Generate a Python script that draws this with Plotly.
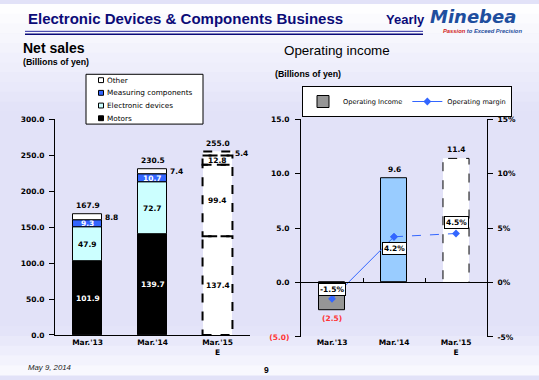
import plotly.graph_objects as go

# ---------------- data ----------------
categories = ["Mar.'13", "Mar.'14", "Mar.'15<br>E"]
motors = [101.9, 139.7, 137.4]
electronic = [47.9, 72.7, 99.4]
measuring = [9.3, 10.7, 12.8]
other = [8.8, 7.4, 5.4]
net_totals = [167.9, 230.5, 255.0]
series_names = ["Motors", "Electronic devices", "Measuring components", "Other"]

op_income = [-2.5, 9.6, 11.4]
op_margin = [-1.5, 4.2, 4.5]

net_ticks = [0, 50, 100, 150, 200, 250, 300]
inc_ticks = [-5, 0, 5, 10, 15]
margin_ticks = [-5, 0, 5, 10, 15]
estimate_index = 2

# ---------------- style ----------------
W, H = 539, 380
FONT = "DejaVu Sans"
ARIAL = "Liberation Sans"
NAVY = "#0B0B78"
BW_L = 0.46
BW_R = 0.42
series_colors = ["black", "#CCFFFF", "#3366FF", "white"]
label_colors = [["white", "white", "black"], ["black", "black", "black"],
                ["white", "white", "black"], ["black", "black", "black"]]
inc_colors = ["#969696", "#99CCFF", "white"]


def px(x):
    return x / W


def py(y):
    return 1 - y / H


dom_lx = [px(55), px(250)]
dom_ly = [py(339), py(118)]
dom_rx = [px(301), px(487)]
dom_ry = [py(341), py(118)]

fig = go.Figure()

# ---------- background gradient ----------
shapes = []


def lerp(c1, c2, t):
    return "#%02x%02x%02x" % tuple(int(round(a + (b - a) * t)) for a, b in zip(c1, c2))


top_c = (255, 255, 255)
mid_c = (226, 226, 248)
bands = 38
for k in range(bands):
    y0 = k * H / bands
    y1 = (k + 1) * H / bands
    yc = (y0 + y1) / 2
    if yc < 110:
        c = lerp(top_c, mid_c, yc / 110)
    elif yc > 330:
        c = lerp(mid_c, (250, 250, 255), (yc - 330) / 50)
    else:
        c = lerp(mid_c, mid_c, 0)
    shapes.append(dict(type="rect", xref="paper", yref="paper", x0=0, x1=1,
                       y0=py(y1 + 0.5), y1=py(y0), fillcolor=c, line=dict(width=0),
                       layer="below"))

# ---------- left chart: stacked bars ----------
stack = [motors, electronic, measuring, other]
for name, vals, col in zip(series_names, stack, series_colors):
    cols = [col if i != estimate_index else "white" for i in range(len(vals))]
    lws = [1 if i != estimate_index else 0 for i in range(len(vals))]
    fig.add_trace(go.Bar(x=categories, y=vals, name=name, width=BW_L,
                         marker=dict(color=cols, line=dict(color="black", width=lws)),
                         xaxis="x", yaxis="y", showlegend=False, hoverinfo="y+name"))

annotations = []
num_font = dict(family=FONT, size=7.5, color="black", weight="bold")

for i in range(len(categories)):
    base = 0
    for s, vals in enumerate(stack):
        v = vals[i]
        if i == estimate_index:
            shapes.append(dict(type="rect", xref="x", yref="y",
                               x0=i - BW_L / 2, x1=i + BW_L / 2, y0=base, y1=base + v,
                               line=dict(color="black", width=2, dash="dash"),
                               fillcolor="rgba(0,0,0,0)"))
        if s == 3:
            annotations.append(dict(x=i + BW_L / 2, y=base + v / 2, xref="x", yref="y",
                                    text=f"{v:.1f}", showarrow=False, xanchor="left",
                                    yanchor="middle", xshift=1, font=num_font))
        else:
            f = dict(num_font)
            f["color"] = label_colors[s][i]
            annotations.append(dict(x=i, y=base + v / 2, xref="x", yref="y",
                                    text=f"{v:.1f}", showarrow=False, yanchor="middle",
                                    font=f))
        base += v
    annotations.append(dict(x=i, y=net_totals[i], xref="x", yref="y",
                            text=f"{net_totals[i]:.1f}", showarrow=False,
                            yanchor="bottom", yshift=2, font=num_font))

# ---------- right chart ----------
fig.add_trace(go.Bar(x=categories, y=op_income, name="Operating Income", width=BW_R,
                     marker=dict(color=inc_colors,
                                 line=dict(color="black",
                                           width=[1 if i != estimate_index else 0
                                                  for i in range(3)])),
                     xaxis="x2", yaxis="y2", showlegend=True))
i = estimate_index
shapes.append(dict(type="rect", xref="x2", yref="y2", x0=i - BW_R / 2, x1=i + BW_R / 2,
                   y0=0, y1=op_income[i], line=dict(color="black", width=1, dash="dash"),
                   fillcolor="rgba(0,0,0,0)"))

fig.add_trace(go.Scatter(x=categories[:estimate_index], y=op_margin[:estimate_index],
                         name="Operating margin", mode="lines+markers",
                         line=dict(color="#3366FF", width=1),
                         marker=dict(symbol="diamond", size=6, color="#3366FF"),
                         xaxis="x2", yaxis="y3", showlegend=True))
fig.add_trace(go.Scatter(x=categories[estimate_index - 1:], y=op_margin[estimate_index - 1:],
                         name="Operating margin (E)", mode="lines+markers",
                         line=dict(color="#3366FF", width=1, dash="dash"),
                         marker=dict(symbol="diamond", size=6, color="#3366FF"),
                         xaxis="x2", yaxis="y3", showlegend=False))
# invisible trace to carry the zero-line axis
fig.add_trace(go.Scatter(x=categories, y=op_income, mode="markers",
                         marker=dict(opacity=0), xaxis="x3", yaxis="y2",
                         showlegend=False, hoverinfo="skip"))


def fmt_inc(v):
    return f"({abs(v):.1f})" if v < 0 else f"{v:.1f}"


for i, v in enumerate(op_income):
    f = dict(num_font)
    if v < 0:
        f["color"] = "#FF3333"
    annotations.append(dict(x=i, y=v, xref="x2", yref="y2", text=fmt_inc(v),
                            showarrow=False, yanchor="top" if v < 0 else "bottom",
                            yshift=-2 if v < 0 else 2, font=f))

margin_shift = [9, -12, 11]
for i, v in enumerate(op_margin):
    annotations.append(dict(x=i, y=v, xref="x2", yref="y3", text=f"{v:.1f}%",
                            showarrow=False, yanchor="middle", yshift=margin_shift[i],
                            bgcolor="white", bordercolor="black", borderwidth=1,
                            borderpad=1, font=num_font))

# ---------- manual legend for net sales ----------
shapes.append(dict(type="rect", xref="paper", yref="paper", x0=px(86), x1=px(203),
                   y0=py(123), y1=py(72), fillcolor="white",
                   line=dict(color="black", width=1)))
leg_y = [78, 91, 104, 117]
for k, s in enumerate(reversed(range(4))):
    yc = leg_y[k]
    shapes.append(dict(type="rect", xref="paper", yref="paper", x0=px(98.5), x1=px(103.5),
                       y0=py(yc + 2.5), y1=py(yc - 2.5), fillcolor=series_colors[s],
                       line=dict(color="black", width=1)))
    annotations.append(dict(x=px(104.5), y=py(yc), xref="paper", yref="paper",
                            text=series_names[s], showarrow=False, xanchor="left",
                            yanchor="middle",
                            font=dict(family=FONT, size=7.3, color="black")))


# ---------- titles / header ----------
def txt(x, y, text, size, color="black", family=ARIAL, weight="normal", style="normal",
        xanchor="left"):
    annotations.append(dict(x=px(x), y=py(y), xref="paper", yref="paper", text=text,
                            showarrow=False, xanchor=xanchor, yanchor="middle",
                            font=dict(family=family, size=size, color=color,
                                      weight=weight, style=style)))


txt(26, 15, "Electronic Devices &amp; Components Business", 15, NAVY, weight="bold")
txt(384, 16, "Yearly", 13, NAVY, weight="bold")
txt(428, 12.5, "Minebea", 18, "#1F4E9E", family=FONT, weight="bold", style="italic")
txt(441, 27.5, "<span style='color:#D02020'>Passion</span> to Exceed Precision", 5.8,
    "#1F4E9E", weight="bold", style="italic")
shapes.append(dict(type="line", xref="paper", yref="paper", x0=px(25), x1=px(423),
                   y0=py(28), y1=py(28), line=dict(color="#2A2AA0", width=1)))
shapes.append(dict(type="line", xref="paper", yref="paper", x0=px(25), x1=px(423),
                   y0=py(31), y1=py(31), line=dict(color=NAVY, width=1.6)))

txt(21, 45.5, "Net sales", 14, "black", weight="bold")
txt(21, 59.5, "(Billions of yen)", 8.8, "black", weight="bold")
txt(282, 47.5, "Operating income", 13.4, "black")
txt(273, 72, "(Billions of yen)", 8.8, "black", weight="bold")
txt(26, 372, "May 9, 2014", 7.8, "#222222", style="italic")
txt(266, 375, "9", 8.5, "black", weight="bold", xanchor="center")

tick_font = dict(family=FONT, size=7.5, color="black", weight="bold")
zero_pos = dom_ry[0] + (0 - inc_ticks[0]) / (inc_ticks[-1] - inc_ticks[0]) * (dom_ry[1] - dom_ry[0])

fig.update_layout(
    width=W, height=H, margin=dict(l=0, r=0, t=0, b=0),
    paper_bgcolor="#E2E2F8", plot_bgcolor="rgba(0,0,0,0)",
    barmode="relative", bargap=0,
    shapes=shapes, annotations=annotations,
    font=dict(family=FONT, size=8, color="black"),
    legend=dict(orientation="h", x=px(302), y=py(84), xanchor="left", yanchor="top",
                bgcolor="white", bordercolor="black", borderwidth=1,
                font=dict(family=FONT, size=6.6, color="black"), itemwidth=30,
                tracegroupgap=0),
    xaxis=dict(domain=dom_lx, anchor="y", type="category", categoryorder="array",
               categoryarray=categories, range=[-0.5, 2.5], showline=True,
               linecolor="black", linewidth=1, ticks="", showgrid=False,
               tickfont=tick_font, fixedrange=True),
    yaxis=dict(domain=dom_ly, anchor="x", range=[0, 300], tickvals=net_ticks,
               ticktext=[f"{v:.1f}" for v in net_ticks], ticks="outside", ticklen=5,
               tickcolor="black", showline=True, linecolor="black", linewidth=1,
               showgrid=False, zeroline=False, tickfont=tick_font,
               ticklabelstandoff=3, fixedrange=True),
    xaxis2=dict(domain=dom_rx, anchor="y2", type="category", categoryorder="array",
                categoryarray=categories, range=[-0.5, 2.5], showline=False, ticks="",
                showgrid=False, tickfont=tick_font, fixedrange=True),
    xaxis3=dict(overlaying="x2", anchor="free", position=zero_pos, type="category",
                categoryorder="array", categoryarray=categories, range=[-0.5, 2.5],
                showline=True, linecolor="black", linewidth=1, ticks="inside",
                tickson="boundaries", ticklen=4, tickcolor="black",
                showticklabels=False, showgrid=False, fixedrange=True),
    yaxis2=dict(domain=dom_ry, anchor="x2", range=[inc_ticks[0], inc_ticks[-1]],
                tickvals=inc_ticks,
                ticktext=[("<span style='color:#FF3333'>(%.1f)</span>" % abs(v)) if v < 0
                          else f"{v:.1f}" for v in inc_ticks],
                ticks="outside", ticklen=5, tickcolor="black", showline=True,
                linecolor="black", linewidth=1, showgrid=False, zeroline=False,
                tickfont=tick_font, ticklabelstandoff=4, fixedrange=True),
    yaxis3=dict(overlaying="y2", side="right", anchor="x2",
                range=[margin_ticks[0], margin_ticks[-1]], tickvals=margin_ticks,
                ticktext=[f"{v}%" for v in margin_ticks], ticks="outside", ticklen=5,
                tickcolor="black", showline=True, linecolor="black", linewidth=1,
                showgrid=False, zeroline=False, tickfont=tick_font,
                ticklabelstandoff=3, fixedrange=True),
)

fig.write_html("out.html", config={"displayModeBar": False},
               post_script="document.body.style.margin='0';"
                           "document.body.style.overflow='hidden';")
